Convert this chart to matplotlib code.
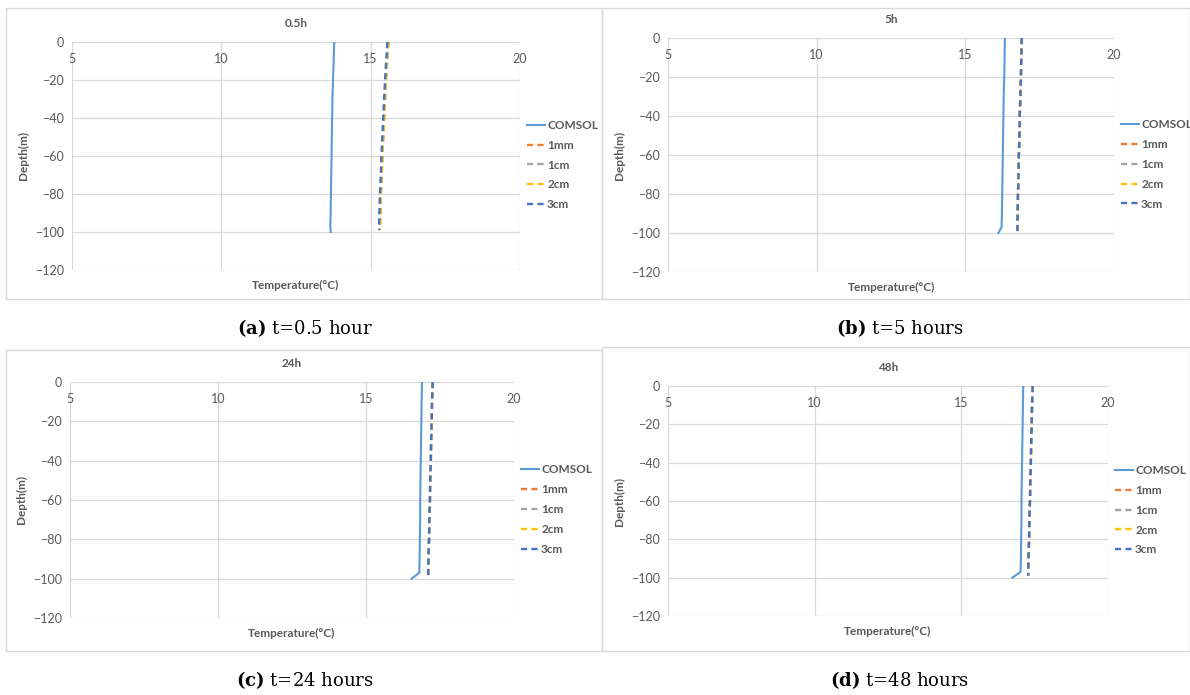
import matplotlib
matplotlib.use("Agg")
import matplotlib.pyplot as plt
import matplotlib.transforms as mtransforms
from matplotlib.patches import Rectangle

plt.rcParams['font.family'] = ['Lato', 'DejaVu Sans']
plt.rcParams['mathtext.fontset'] = 'dejavuserif'

# ---- data ----
titles = ["0.5h", "5h", "24h", "48h"]
captions = [("(a)", "t=0.5 hour"), ("(b)", "t=5 hours"),
            ("(c)", "t=24 hours"), ("(d)", "t=48 hours")]

depth_comsol = [0, -10, -20, -30, -40, -50, -60, -70, -80, -90, -97, -100]
depth_model = [0, -10, -20, -30, -40, -50, -60, -70, -80, -90, -99]

comsol_05h = [13.78, 13.76, 13.74, 13.72, 13.71, 13.70, 13.69, 13.68, 13.67, 13.66, 13.65, 13.66]
comsol_5h = [16.33, 16.32, 16.31, 16.29, 16.28, 16.27, 16.26, 16.25, 16.24, 16.23, 16.22, 16.11]
comsol_24h = [16.89, 16.88, 16.87, 16.86, 16.85, 16.84, 16.83, 16.83, 16.82, 16.81, 16.80, 16.54]
comsol_48h = [17.11, 17.10, 17.09, 17.08, 17.07, 17.06, 17.05, 17.05, 17.04, 17.03, 17.02, 16.74]

cm3_05h = [15.56, 15.52, 15.48, 15.45, 15.42, 15.39, 15.36, 15.34, 15.31, 15.29, 15.28]
cm2_05h = [15.59, 15.55, 15.51, 15.48, 15.45, 15.42, 15.39, 15.37, 15.34, 15.32, 15.31]
cm3_5h = [16.90, 16.88, 16.87, 16.85, 16.83, 16.82, 16.80, 16.79, 16.77, 16.76, 16.75]
cm3_24h = [17.25, 17.23, 17.22, 17.20, 17.19, 17.17, 17.16, 17.14, 17.13, 17.11, 17.10]
cm3_48h = [17.43, 17.41, 17.40, 17.38, 17.37, 17.35, 17.34, 17.32, 17.31, 17.29, 17.28]

# series per panel: COMSOL, 1mm, 1cm, 2cm, 3cm
panels = [
    (comsol_05h, cm2_05h, cm2_05h, cm2_05h, cm3_05h),
    (comsol_5h, cm3_5h, cm3_5h, cm3_5h, cm3_5h),
    (comsol_24h, cm3_24h, cm3_24h, cm3_24h, cm3_24h),
    (comsol_48h, cm3_48h, cm3_48h, cm3_48h, cm3_48h),
]
series_names = ["COMSOL", "1mm", "1cm", "2cm", "3cm"]
series_colors = ["#5B9BD5", "#ED7D31", "#A5A5A5", "#FFC000", "#4472C4"]

x_ticks = [5, 10, 15, 20]
y_ticks = [0, -20, -40, -60, -80, -100, -120]

# ---- layout (pixels of a 1190x695 canvas) ----
W, H = 1190, 695
axes_px = [(72, 520, 42, 270), (668, 1114, 38, 272),
           (70, 514, 382, 618), (668, 1108, 386, 616)]
boxes_px = [(6, 602, 8, 299), (602, 1190, 8, 299),
            (6, 602, 350, 651), (602, 1190, 347, 651)]
caption_px = [(305, 328), (900, 328), (305, 680), (900, 680)]

grey = "#595959"
grid_c = "#D9D9D9"

fig = plt.figure(figsize=(11.9, 6.95), dpi=100)

for i in range(4):
    bl, br, bt, bb = boxes_px[i]
    fig.patches.append(Rectangle((bl / W, 1 - bb / H), (br - bl) / W, (bb - bt) / H,
                                 transform=fig.transFigure, fill=False,
                                 edgecolor=grid_c, linewidth=1.0))

    l, r, t, b = axes_px[i]
    ax = fig.add_axes([l / W, 1 - b / H, (r - l) / W, (b - t) / H])
    for k, (vals, name, col) in enumerate(zip(panels[i], series_names, series_colors)):
        if k == 0:
            ax.plot(vals, depth_comsol, color=col, lw=1.5, label=name)
        else:
            ax.plot(vals, depth_model, color=col, lw=1.7, label=name,
                    dashes=(2.6, 1.8))

    ax.set_xlim(5, 20)
    ax.set_ylim(-120, 0)
    ax.set_xticks(x_ticks)
    ax.set_yticks(y_ticks)
    ax.grid(True, color=grid_c, lw=0.9)
    ax.set_axisbelow(True)
    for s in ax.spines.values():
        s.set_visible(False)
    ax.tick_params(length=0, labelsize=9, labelcolor=grey)
    ax.tick_params(axis='y', pad=6)
    ax.set_xticklabels([])

    # x tick labels sit just under the zero line, as in Excel
    trans = mtransforms.blended_transform_factory(ax.transData, ax.transAxes)
    for xt in x_ticks:
        ax.annotate(str(xt), xy=(xt, 1), xycoords=trans, xytext=(0, -12.5),
                    textcoords='offset points', ha='center', va='center',
                    fontsize=9, color=grey)

    ax.set_title(titles[i], fontsize=8.5, color=grey, fontweight='bold', pad=11)
    ax.set_xlabel("Temperature(°C)", fontsize=8.5, color=grey, fontweight='bold',
                  labelpad=4)
    ax.set_ylabel("Depth(m)", fontsize=8.5, color=grey, fontweight='bold', labelpad=4)

    ax.legend(loc='center left', bbox_to_anchor=(1.0, 0.46), frameon=False,
              labelcolor=grey, handlelength=1.5, handletextpad=0.2,
              labelspacing=0.75, borderaxespad=0.2,
              prop={'weight': 'bold', 'size': 8.5})

    cx, cy = caption_px[i]
    lab, rest = captions[i]
    fig.text(cx / W, 1 - cy / H, r"$\mathbf{" + lab + "}$ " + rest,
             ha='center', va='center', fontsize=13, family='DejaVu Serif')

fig.savefig("out.png", dpi=100)
